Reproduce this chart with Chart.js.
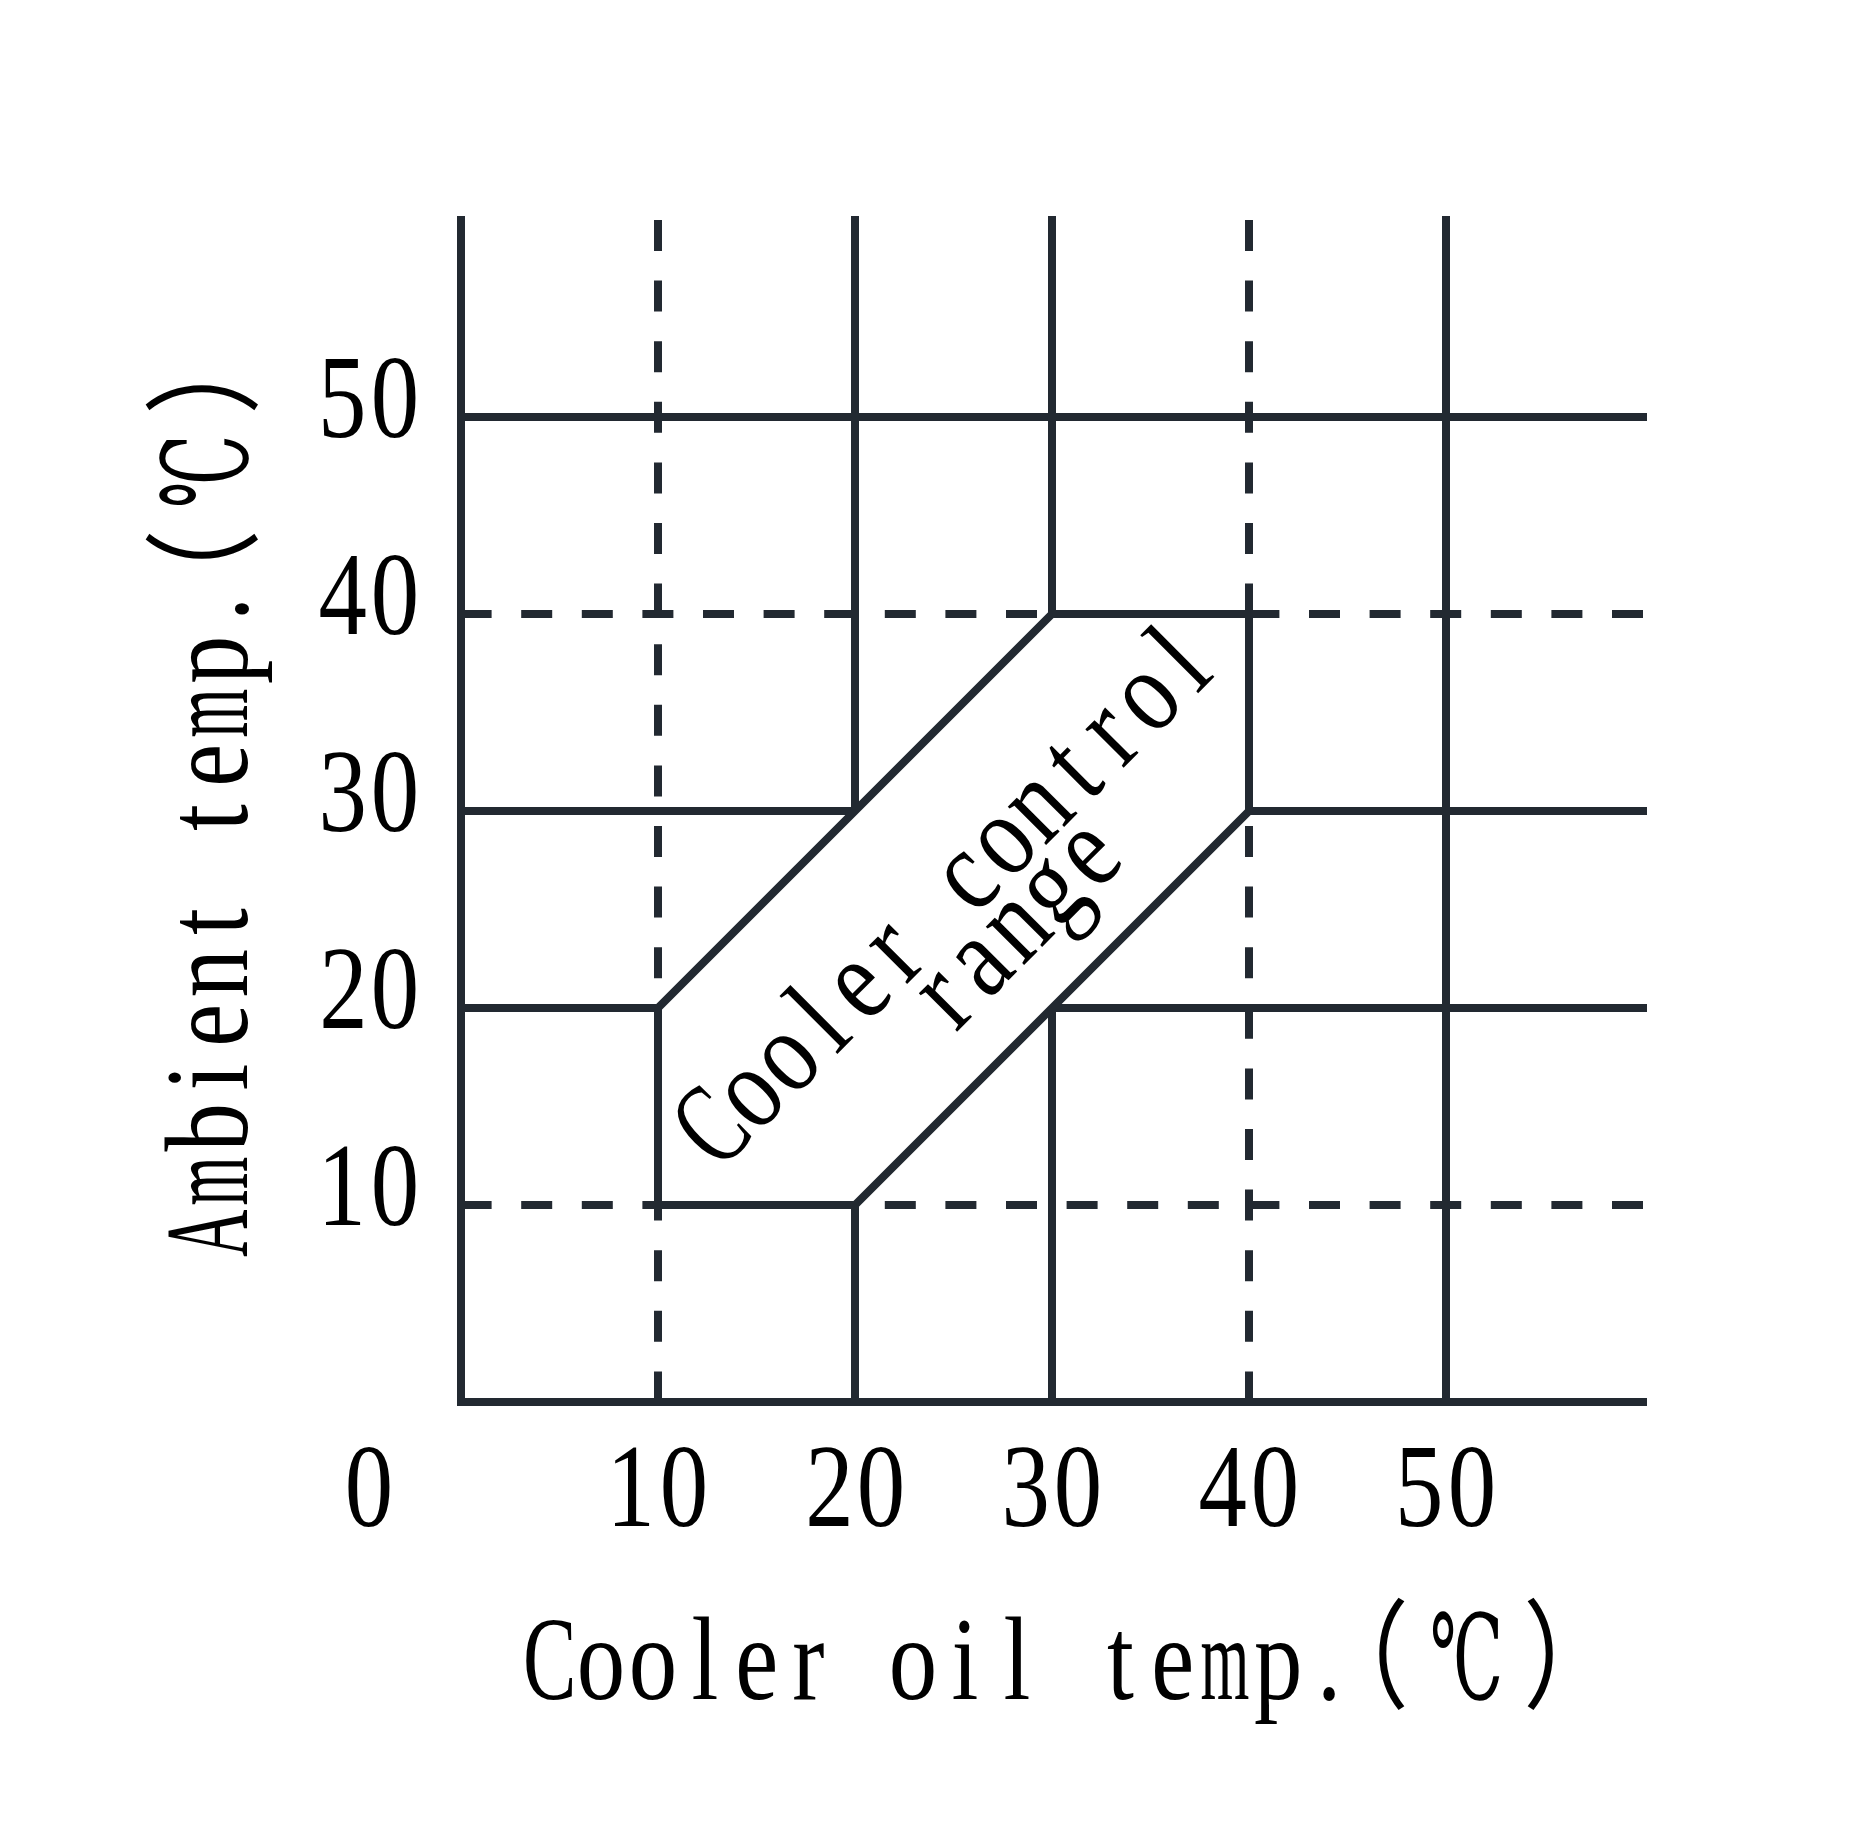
<!DOCTYPE html>
<html>
<head>
<meta charset="utf-8">
<script src="https://cdn.jsdelivr.net/npm/chart.js@4"></script>
<style>
  html, body { margin: 0; padding: 0; background: #fff; }
  #wrap { width: 1850px; height: 1846px; }
</style>
</head>
<body>
<div id="wrap"><canvas id="myChart"></canvas></div>
<script>
// grid lines (°C)
const solidLines = [0, 20, 30, 50];
const dashedLines = [10, 40];
const axisMax = 60;

// corners of the cooler control range
const rangeX = [10, 10, 30, 40, 40, 20, 10];
const rangeY = [10, 20, 40, 40, 30, 10, 10];

const xTickLabels = [0, 10, 20, 30, 40, 50];
const yTickLabels = [10, 20, 30, 40, 50];

const xTitle = "Cooler oil temp.（℃）";
const yTitle = "Ambient temp.（℃）";
const rangeText = ["Cooler control", "range"];

const lineColor = "#222931";
const textFont = '118px "Liberation Serif", "DejaVu Serif", "Noto Sans CJK SC"';

// dash + gap chosen so both ends of a dashed line finish on a dash
function gridLine(v, vertical, dashed) {
    let pts = vertical
        ? [{ x: v, y: axisMax }, { x: v, y: 0 }]
        : [{ x: axisMax, y: v }, { x: 0, y: v }];
    return {
        data: pts,
        showLine: true,
        borderColor: lineColor,
        borderWidth: 8,
        borderDash: dashed ? [31, 29.6] : [],
        borderCapStyle: dashed ? "butt" : "square",
        pointRadius: 0,
        order: 1,
        clip: false,
    };
}

let datasets = [
    {
        data: rangeX.map((x, i) => ({ x: x, y: rangeY[i] })),
        showLine: true,
        fill: "shape",
        backgroundColor: "#ffffff",
        borderColor: lineColor,
        borderWidth: 8,
        borderJoinStyle: "miter",
        pointRadius: 0,
        order: 0,
        clip: false,
    },
];
solidLines.forEach(v => {
    datasets.push(gridLine(v, true, false));
    datasets.push(gridLine(v, false, false));
});
dashedLines.forEach(v => {
    datasets.push(gridLine(v, true, true));
    datasets.push(gridLine(v, false, true));
});

// draws text with fixed cells per character, like the narrow serif of the original
function drawSpaced(ctx, text, x, y, cell) {
    let chars = [...text];
    let cells = chars.map(ch => (ch.charCodeAt(0) < 256 ? cell : 74));
    let total = cells.reduce((a, b) => a + b, 0);
    let left = x - total / 2;
    chars.forEach((ch, i) => {
        if (ch !== " ") {
            let m = ctx.measureText(ch);
            let inkW = m.actualBoundingBoxLeft + m.actualBoundingBoxRight;
            let sx = Math.min(0.82, (cells[i] * 0.9) / inkW);
            ctx.save();
            ctx.translate(left + cells[i] / 2, y);
            ctx.scale(sx, 1);
            ctx.fillText(ch, -(m.actualBoundingBoxRight - m.actualBoundingBoxLeft) / 2, 0);
            ctx.restore();
        }
        left += cells[i];
    });
}

const labelsPlugin = {
    id: "labels",
    afterDraw(chart) {
        const ctx = chart.ctx;
        const area = chart.chartArea;
        const xs = chart.scales.x;
        const ys = chart.scales.y;
        ctx.save();
        ctx.fillStyle = "#000";
        ctx.font = textFont;
        ctx.textAlign = "left";
        ctx.textBaseline = "alphabetic";

        const yLabelX = area.left - 92;
        yTickLabels.forEach(v => {
            drawSpaced(ctx, String(v), yLabelX, ys.getPixelForValue(v) + 20, 52);
        });
        xTickLabels.forEach(v => {
            let px = v === 0 ? yLabelX : xs.getPixelForValue(v);
            drawSpaced(ctx, String(v), px, area.bottom + 124, 52);
        });

        drawSpaced(ctx, xTitle, (area.left + area.right) / 2 - 2, area.bottom + 297, 52);

        ctx.save();
        ctx.translate(area.left - 214, (area.top + area.bottom) / 2 - 1);
        ctx.rotate(-Math.PI / 2);
        drawSpaced(ctx, yTitle, 0, 0, 52);
        ctx.restore();

        // text inside the range band
        const spots = [[25.93, 24.5], [29.38, 22.99]];
        rangeText.forEach((t, i) => {
            ctx.save();
            ctx.translate(xs.getPixelForValue(spots[i][0]), ys.getPixelForValue(spots[i][1]));
            ctx.rotate(-Math.PI / 4);
            drawSpaced(ctx, t, 0, 0, 51);
            ctx.restore();
        });
        ctx.restore();
    },
};

let myChart = document.getElementById("myChart").getContext("2d");

let rangeChart = new Chart(myChart, {
    type: "scatter",
    data: { datasets: datasets },
    options: {
        responsive: true,
        maintainAspectRatio: false,
        animation: false,
        layout: {
            padding: { left: 461, right: 207, top: 220, bottom: 444 },
        },
        scales: {
            x: { type: "linear", min: 0, max: axisMax, display: false },
            y: { type: "linear", min: 0, max: axisMax, display: false },
        },
        plugins: {
            legend: { display: false },
            tooltip: { enabled: false },
        },
    },
    plugins: [labelsPlugin],
});
</script>
</body>
</html>
